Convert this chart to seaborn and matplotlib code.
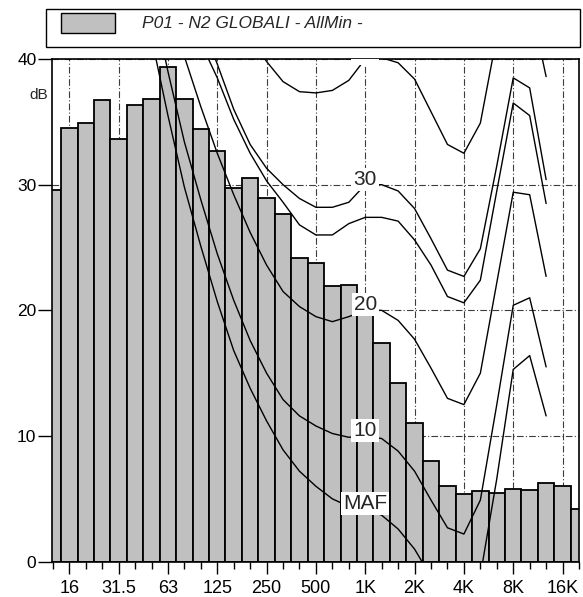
import numpy as np
import pandas as pd
import matplotlib
matplotlib.use("Agg")
import matplotlib.pyplot as plt
from matplotlib.patches import Rectangle
import seaborn as sns

# One-third-octave band centres (Hz)
bands = ["12.5", "16", "20", "25", "31.5", "40", "50", "63", "80", "100", "125",
         "160", "200", "250", "315", "400", "500", "630", "800", "1K", "1.25K",
         "1.6K", "2K", "2.5K", "3.15K", "4K", "5K", "6.3K", "8K", "10K", "12.5K",
         "16K", "20K"]

# Measured band levels, dB
levels = [29.6, 34.5, 34.9, 36.7, 33.6, 36.3, 36.8, 39.4, 36.8, 34.4, 32.7,
          29.7, 30.5, 28.9, 27.7, 24.2, 23.8, 21.9, 22.0, 20.5, 17.4,
          14.2, 11.0, 8.0, 6.0, 5.4, 5.6, 5.5, 5.8, 5.7, 6.3,
          6.0, 4.2]

tick_bands = ["16", "31.5", "63", "125", "250", "500", "1K", "2K", "4K", "8K", "16K"]

# Equal-loudness contours, 20 Hz ... 12.5 kHz
contour_bands = bands[2:31]
maf = [74.3, 65.0, 56.3, 48.4, 41.7, 35.5, 29.8, 25.1, 20.7, 16.8, 13.8, 11.2,
       8.9, 7.2, 6.0, 5.0, 4.4, 4.2, 3.7, 2.6, 1.0, -1.2, -3.6, -3.9, -1.1,
       6.6, 15.3, 16.4, 11.6]
phon10 = [76.0, 67.0, 59.0, 51.5, 45.2, 39.0, 33.4, 28.8, 24.5, 20.8, 17.6, 15.0,
          12.9, 11.6, 10.8, 10.2, 9.9, 10.0, 9.8, 8.8, 7.2, 4.9, 2.7, 2.2, 4.9,
          12.5, 20.4, 21.0, 15.5]
phon20 = [78.5, 70.0, 62.5, 55.5, 50.0, 44.8, 40.2, 36.2, 32.5, 29.2, 26.2, 23.6,
          21.5, 20.3, 19.5, 19.1, 19.5, 20.0, 20.0, 19.2, 17.7, 15.4, 13.0, 12.5, 15.0,
          22.2, 29.4, 29.2, 22.7]
contour_extra = [79.5, 71.5, 64.5, 58.0, 53.0, 48.0, 44.5, 41.3, 38.5, 35.2, 32.5, 30.3,
                 28.6, 26.8, 26.0, 26.0, 26.9, 27.4, 27.4, 27.1, 25.6, 23.6, 21.1, 20.6, 22.4,
                 29.5, 36.5, 35.5, 28.5]
phon30 = [80.5, 73.0, 66.0, 59.5, 54.5, 50.0, 46.5, 43.0, 39.6, 36.0, 33.2, 31.3,
          30.0, 28.9, 28.2, 28.2, 28.6, 30.0, 30.0, 29.5, 28.1, 25.7, 23.2, 22.7, 24.9,
          31.5, 38.5, 37.7, 30.4]
phon40 = [85.0, 78.5, 72.5, 67.0, 62.5, 58.5, 55.0, 52.0, 49.0, 45.5, 41.7, 39.8,
          38.2, 37.4, 37.3, 37.5, 38.3, 40.0, 40.1, 39.7, 38.4, 35.8, 33.2, 32.5, 34.9,
          41.8, 47.0, 44.7, 38.6]

contours = [("MAF", maf), ("10", phon10), ("20", phon20), (None, contour_extra),
            ("30", phon30), ("40", phon40)]

legend_label = "P01 - N2 GLOBALI - AllMin -"

sns.set_style("ticks")
plt.rcParams["font.family"] = ["Liberation Sans", "DejaVu Sans"]

W, H = 583, 597
fig = plt.figure(figsize=(W / 100, H / 100), dpi=100)
ax = fig.add_axes([51.7 / W, 1 - 561.7 / H, (579 - 51.7) / W, (561.7 - 59) / H])

pos = {b: i for i, b in enumerate(bands)}
bar_df = pd.DataFrame({"pos": [pos[b] for b in bands], "level": levels})

sns.barplot(data=bar_df, x="pos", y="level", native_scale=True, width=1.0,
            color="#c0c0c0", saturation=1, edgecolor="black", linewidth=1.3,
            ax=ax, zorder=2)

xc = [pos[b] for b in contour_bands]
for label, vals in contours:
    sns.lineplot(x=xc, y=vals, color="black", linewidth=1.0, sort=False,
                 estimator=None, ax=ax, zorder=4, legend=False)
    if label is not None:
        y1k = vals[contour_bands.index("1K")]
        ax.text(pos["1K"], y1k, label, ha="center", va="baseline", fontsize=15,
                bbox=dict(facecolor="white", edgecolor="none", pad=1.5),
                zorder=6, clip_on=True)

ax.set_xlim(-0.07, 32.0)
ax.set_ylim(0, 40)

ax.set_xticks([pos[b] for b in tick_bands])
ax.set_xticklabels(tick_bands, fontsize=13)
ax.set_xticks(range(len(bands)), minor=True)
ax.set_yticks([0, 10, 20, 30, 40])
ax.set_yticklabels(["0", "10", "20", "30", "40"], fontsize=12.5)
ax.tick_params(axis="x", which="major", length=8.5, width=1, pad=4.5, colors="black")
ax.tick_params(axis="x", which="minor", length=5, width=1, colors="black")
ax.tick_params(axis="y", which="major", length=10, width=1, pad=1, colors="black")
ax.set_xlabel("")
ax.set_ylabel("")

ax.set_axisbelow(True)
grid_kw = dict(color="#3c3c3c", linewidth=0.8, linestyle=(0, (6, 2, 1, 2)))
ax.grid(True, axis="x", which="major", **grid_kw)
ax.grid(True, axis="y", which="major", **grid_kw)

for s in ax.spines.values():
    s.set_visible(True)
    s.set_color("black")
    s.set_linewidth(1.2)

fig.text(39 / W, 1 - 95 / H, "dB", ha="center", va="center", fontsize=11)

# Legend box above the plot
fig.patches.append(Rectangle((46 / W, 1 - 47 / H), 534 / W, 38 / H,
                             transform=fig.transFigure, fill=False,
                             edgecolor="black", linewidth=1))
fig.patches.append(Rectangle((61 / W, 1 - 33 / H), 54 / W, 20 / H,
                             transform=fig.transFigure, facecolor="#c0c0c0",
                             edgecolor="black", linewidth=1))
fig.text(142 / W, 1 - 28 / H, legend_label, style="italic", fontsize=12.5,
         ha="left", va="baseline")

fig.savefig("out.png", dpi=100, facecolor="white")
